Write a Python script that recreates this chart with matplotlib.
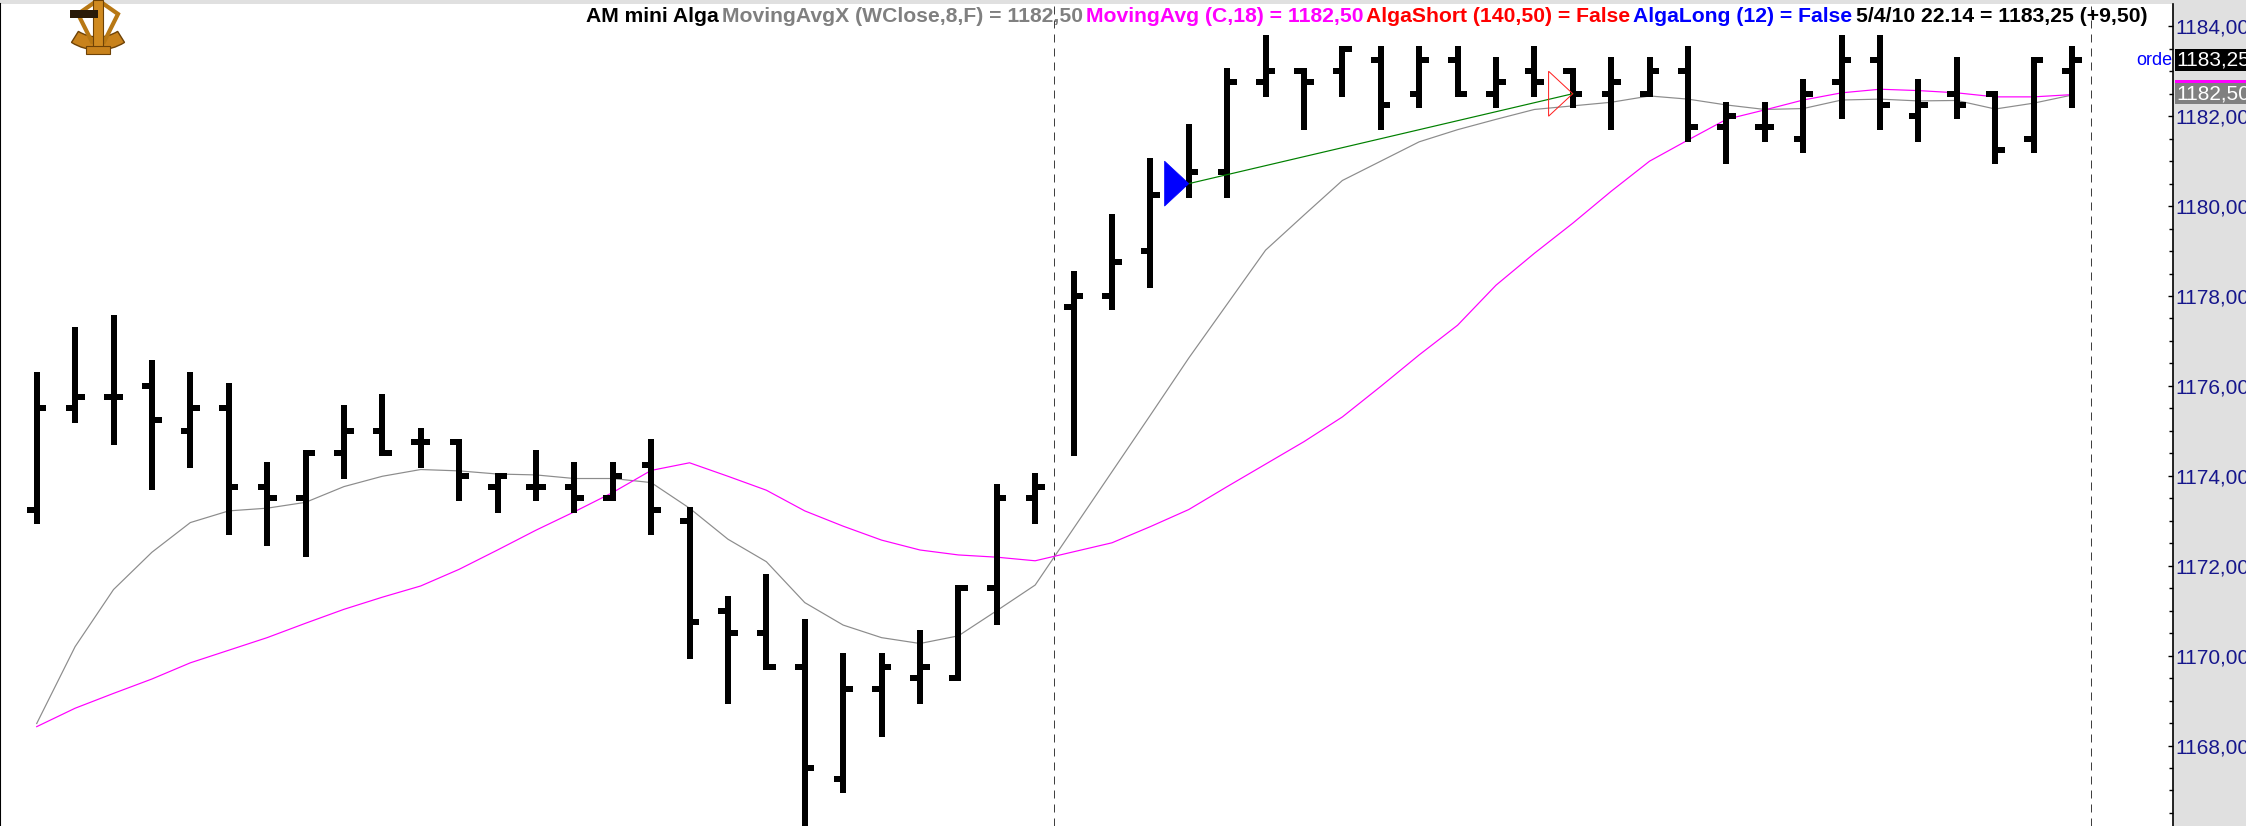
import matplotlib
matplotlib.use("Agg")
import matplotlib.pyplot as plt
import numpy as np
from matplotlib import transforms
from matplotlib.patches import Polygon, Wedge, Rectangle
from matplotlib.ticker import MultipleLocator, FuncFormatter

# OHLC bars, one per position 1..54
opens = [1173.25, 1175.50, 1175.75, 1176.00, 1175.00, 1175.50, 1173.75, 1173.50, 1174.50, 1175.00,
         1174.75, 1174.75, 1173.75, 1173.75, 1173.75, 1173.50, 1174.25, 1173.00, 1171.00, 1170.50,
         1169.75, 1167.25, 1169.25, 1169.50, 1169.50, 1171.50, 1173.50, 1177.75, 1178.00, 1179.00,
         1180.50, 1180.75, 1182.75, 1183.00, 1183.00, 1183.25, 1182.50, 1183.25, 1182.50, 1183.00,
         1183.00, 1182.50, 1182.50, 1183.00, 1181.75, 1181.75, 1181.50, 1182.75, 1183.25, 1182.00,
         1182.50, 1182.50, 1181.50, 1183.00]
highs = [1176.25, 1177.25, 1177.50, 1176.50, 1176.25, 1176.00, 1174.25, 1174.50, 1175.50, 1175.75,
         1175.00, 1174.75, 1174.00, 1174.50, 1174.25, 1174.25, 1174.75, 1173.25, 1171.25, 1171.75,
         1170.75, 1170.00, 1170.00, 1170.50, 1171.50, 1173.75, 1174.00, 1178.50, 1179.75, 1181.00,
         1181.75, 1183.00, 1183.75, 1183.00, 1183.50, 1183.50, 1183.50, 1183.50, 1183.25, 1183.50,
         1183.00, 1183.25, 1183.25, 1183.50, 1182.25, 1182.25, 1182.75, 1183.75, 1183.75, 1182.75,
         1183.25, 1182.50, 1183.25, 1183.50]
lows = [1173.00, 1175.25, 1174.75, 1173.75, 1174.25, 1172.75, 1172.50, 1172.25, 1174.00, 1174.50,
        1174.25, 1173.50, 1173.25, 1173.50, 1173.25, 1173.50, 1172.75, 1170.00, 1169.00, 1169.75,
        1166.25, 1167.00, 1168.25, 1169.00, 1169.50, 1170.75, 1173.00, 1174.50, 1177.75, 1178.25,
        1180.25, 1180.25, 1182.50, 1181.75, 1182.50, 1181.75, 1182.25, 1182.50, 1182.25, 1182.50,
        1182.25, 1181.75, 1182.50, 1181.50, 1181.00, 1181.50, 1181.25, 1182.00, 1181.75, 1181.50,
        1182.00, 1181.00, 1181.25, 1182.25]
closes = [1175.50, 1175.75, 1175.75, 1175.25, 1175.50, 1173.75, 1173.50, 1174.50, 1175.00, 1174.50,
          1174.75, 1174.00, 1174.00, 1173.75, 1173.50, 1174.00, 1173.25, 1170.75, 1170.50, 1169.75,
          1167.50, 1169.25, 1169.75, 1169.75, 1171.50, 1173.50, 1173.75, 1178.00, 1178.75, 1180.25,
          1180.75, 1182.75, 1183.00, 1182.75, 1183.50, 1182.25, 1183.25, 1182.50, 1182.75, 1182.75,
          1182.50, 1182.75, 1183.00, 1181.75, 1182.00, 1181.75, 1182.50, 1183.25, 1182.25, 1182.25,
          1182.25, 1181.25, 1183.25, 1183.25]

# MovingAvgX (WClose,8,F) - grey
ma_wclose8 = [1168.49, 1170.20, 1171.47, 1172.30, 1172.96, 1173.22, 1173.28, 1173.41, 1173.76, 1173.99,
              1174.14, 1174.11, 1174.04, 1174.02, 1173.94, 1173.94, 1173.85, 1173.28, 1172.59, 1172.09,
              1171.18, 1170.68, 1170.40, 1170.27, 1170.44, 1171.00, 1171.57, 1172.83, 1174.09, 1175.35,
              1176.62, 1177.82, 1179.02, 1179.80, 1180.57, 1181.00, 1181.43, 1181.70, 1181.93, 1182.15,
              1182.23, 1182.31, 1182.45, 1182.38, 1182.25, 1182.15, 1182.17, 1182.36, 1182.38, 1182.34,
              1182.35, 1182.16, 1182.29, 1182.47]
# MovingAvg (C,18) - magenta
ma_close18 = [1168.42, 1168.83, 1169.16, 1169.48, 1169.84, 1170.12, 1170.40, 1170.72, 1171.03, 1171.30,
              1171.55, 1171.92, 1172.35, 1172.79, 1173.20, 1173.63, 1174.12, 1174.29, 1173.99, 1173.68,
              1173.22, 1172.88, 1172.57, 1172.35, 1172.24, 1172.19, 1172.11, 1172.31, 1172.51, 1172.87,
              1173.25, 1173.76, 1174.26, 1174.76, 1175.31, 1175.99, 1176.69, 1177.35, 1178.24, 1178.95,
              1179.62, 1180.33, 1181.00, 1181.47, 1181.93, 1182.14, 1182.36, 1182.52, 1182.60, 1182.57,
              1182.52, 1182.43, 1182.43, 1182.48]

long_entry = (31, 1180.50)
long_exit = (41, 1182.50)
session_breaks = [27.5, 54.5]
last_close = 1183.25
last_ma = 1182.50

title_parts = [
    ("AM mini Alga", "black"),
    ("MovingAvgX (WClose,8,F) = 1182,50", "#808080"),
    ("MovingAvg (C,18) = 1182,50", "#ff00ff"),
    ("AlgaShort (140,50) = False", "#ff0000"),
    ("AlgaLong (12) = False", "#0000ff"),
    ("5/4/10 22.14 = 1183,25 (+9,50)", "black"),
]

W, H = 2246, 826
PX = 0.72  # one pixel in points at dpi 100
SANS = ["Liberation Sans", "DejaVu Sans"]
LABEL_SIZE = 15

fig = plt.figure(figsize=(W / 100, H / 100), dpi=100, facecolor="#e0e0e0")
ax = fig.add_axes([0, 0, 2173 / W, 822 / H])
ax.set_facecolor("white")

x = np.arange(1, len(opens) + 1)

# moving averages
ax.plot(x, ma_wclose8, color="#8c8c8c", lw=1.2 * PX, zorder=2)
ax.plot(x, ma_close18, color="#ff00ff", lw=1.2 * PX, zorder=2)

# bars
vl = ax.vlines(x, lows, highs, colors="black", lw=6 * PX, zorder=3)
vl.set_capstyle("projecting")
ax.hlines(opens, x - 0.25, x, colors="black", lw=6 * PX, zorder=3)
ax.hlines(closes, x, x + 0.25, colors="black", lw=6 * PX, zorder=3)

# session separators
for b in session_breaks:
    ax.axvline(b, color="#404040", lw=1 * PX, linestyle=(0, (8, 6)), zorder=1)

# trade
tw, th = 0.63, 0.5
ex, ey = long_entry
qx, qy = long_exit
ax.plot([ex, qx], [ey, qy], color="#008000", lw=1.2 * PX, zorder=4)
ax.add_patch(Polygon([[ex, ey], [ex - tw, ey + th], [ex - tw, ey - th]], closed=True,
                     facecolor="#0000ff", edgecolor="#0000ff", lw=0.5, zorder=5))
ax.add_patch(Polygon([[qx, qy], [qx - tw, qy + th], [qx - tw, qy - th]], closed=True,
                     facecolor="none", edgecolor="#ff2020", lw=1 * PX, zorder=5))

ax.set_xlim(0.044, 56.63)
ax.set_ylim(1166.21, 1184.496)

ax.set_xticks([])
ax.yaxis.tick_right()
ax.yaxis.set_major_locator(MultipleLocator(2))
ax.yaxis.set_minor_locator(MultipleLocator(0.5))
ax.yaxis.set_major_formatter(FuncFormatter(lambda v, p: f"{v:.2f}".replace(".", ",")))
ax.tick_params(axis="y", which="both", direction="in", color="black", width=1,
               labelcolor="#16168c", labelsize=LABEL_SIZE, pad=1.5, labelfontfamily=SANS)
ax.tick_params(axis="y", which="major", length=3.5)
ax.tick_params(axis="y", which="minor", length=3)
for s in ["top", "bottom"]:
    ax.spines[s].set_visible(False)
ax.spines["left"].set_linewidth(1.5)
ax.spines["right"].set_linewidth(1.2)

# price labels on the scale
blend = transforms.blended_transform_factory(ax.transAxes, ax.transData)
lab_t = transforms.offset_copy(blend, fig=fig, x=3, y=0, units="dots")
mag_t = transforms.offset_copy(blend, fig=fig, x=3, y=3, units="dots")
ord_t = transforms.offset_copy(blend, fig=fig, x=-1, y=0, units="dots")


def fmt(v):
    return f"{v:.2f}".replace(".", ",")


box_kw = dict(ha="left", va="center", color="white", fontsize=LABEL_SIZE, family=SANS, clip_on=False)
ax.text(1.0, last_ma, fmt(last_ma), transform=mag_t, zorder=6,
        bbox=dict(boxstyle="square,pad=0.05", fc="#ff00ff", ec="none"), **box_kw)
ax.text(1.0, last_ma, fmt(last_ma), transform=lab_t, zorder=7,
        bbox=dict(boxstyle="square,pad=0.05", fc="#808080", ec="none"), **box_kw)
ax.text(1.0, last_close, fmt(last_close), transform=lab_t, zorder=7,
        bbox=dict(boxstyle="square,pad=0.05", fc="black", ec="none"), **box_kw)
ax.text(1.0, last_close, "orde", transform=ord_t, ha="right", va="center",
        color="#0000ff", fontsize=13, family=SANS, zorder=6)

# header text, one coloured piece after another
r = fig.canvas.get_renderer()
cur = 586
for s, c in title_parts:
    t = fig.text(cur / W, 1 - 21.5 / H, s, color=c, fontsize=15.2, fontweight="bold",
                 family=SANS, va="baseline", ha="left")
    cur += t.get_window_extent(renderer=r).width + 3

# small sextant logo
def P(px, py):
    return (px / 100, (H - py) / 100)


it = fig.dpi_scale_trans
fig.patches.append(Wedge(P(98, 0), 0.50, 238, 302, width=0.13, transform=it,
                         facecolor="#c8821c", edgecolor="#6e4206", lw=1))
fig.patches.append(Polygon([P(78, 14), P(98, 0), P(118, 14), P(104, 42), P(92, 42)], closed=True,
                           transform=it, facecolor="none", edgecolor="#b87814", lw=3))
fig.patches.append(Rectangle(P(93, 50), 0.10, 0.50, transform=it,
                             facecolor="#d08a20", edgecolor="#6e4206", lw=0.8))
fig.patches.append(Rectangle(P(70, 18), 0.28, 0.08, transform=it,
                             facecolor="#2a1a08", edgecolor="none"))
fig.patches.append(Rectangle(P(86, 54), 0.24, 0.08, transform=it,
                             facecolor="#c8821c", edgecolor="#6e4206", lw=0.8))

fig.savefig("out.png", dpi=100, facecolor=fig.get_facecolor())
